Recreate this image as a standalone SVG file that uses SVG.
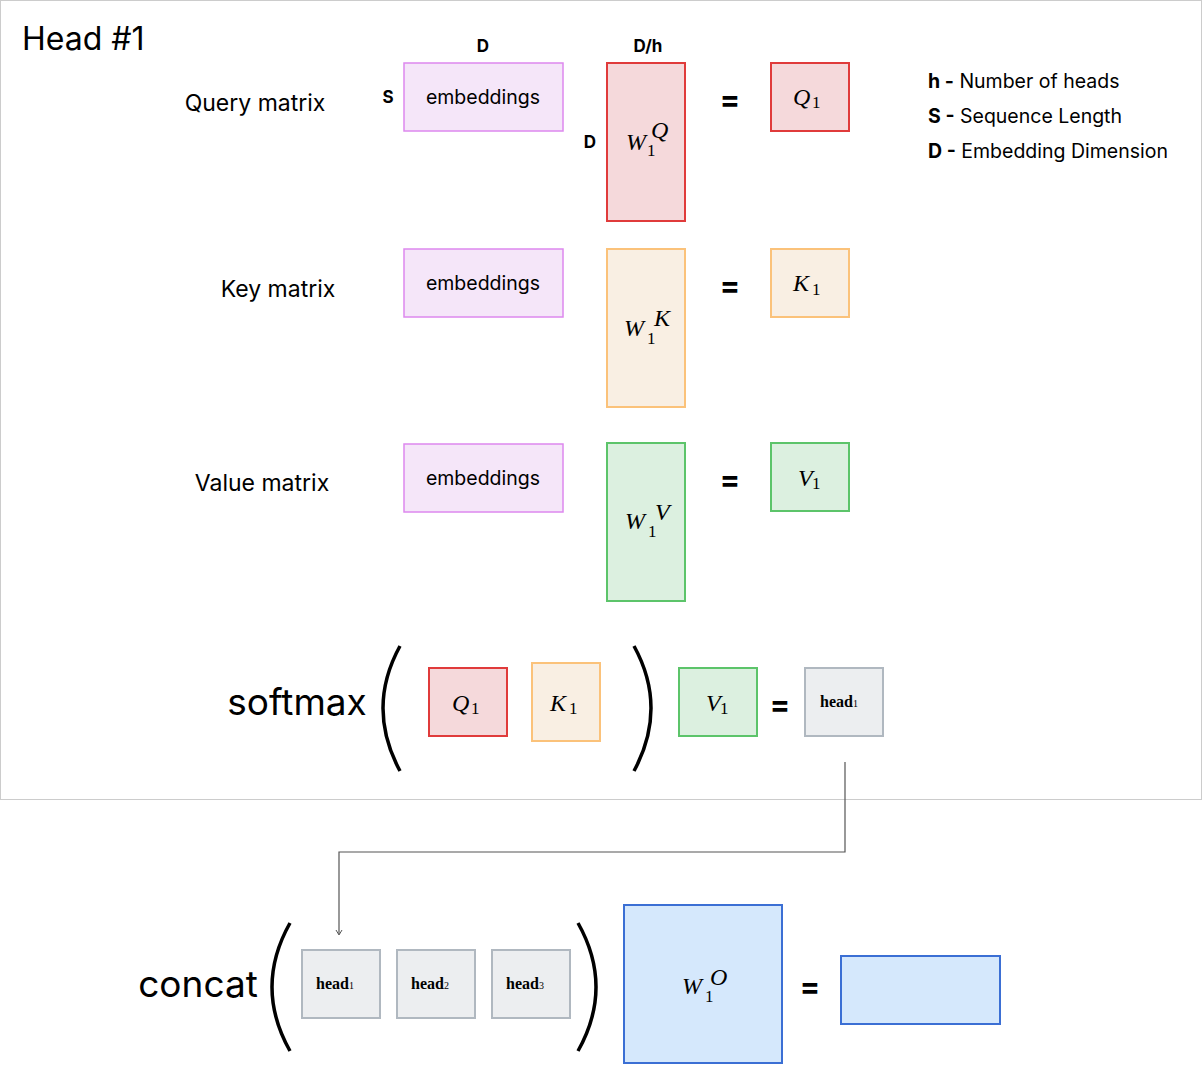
<svg xmlns="http://www.w3.org/2000/svg" width="1202" height="1079" viewBox="0 0 1202 1079">
<style>
text{font-family:Inter,"Noto Sans","Liberation Sans",sans-serif;fill:#000}
.b{font-weight:bold;font-size:17px}
.lbl{font-size:23px;text-anchor:middle}
.em{font-size:19.5px;text-anchor:middle}
.eq{font-size:30px;text-anchor:middle;font-weight:bold}
.m{font-family:"Liberation Serif","DejaVu Serif",serif;font-style:italic;font-size:24px}
.n{font-family:"Liberation Serif","DejaVu Serif",serif;font-size:17px}
.hd{font-family:"Liberation Serif","DejaVu Serif",serif;font-weight:bold;font-size:16px}
.hs{font-family:"Liberation Serif","DejaVu Serif",serif;font-size:10px;font-weight:normal}
.emb{fill:#f5e6f9;stroke:#dd88ee;stroke-width:1.5}
.q{fill:#f5d9db;stroke:#e03b3b;stroke-width:2}
.k{fill:#f9efe3;stroke:#fbc27a;stroke-width:2}
.v{fill:#dcf0e0;stroke:#5cc46a;stroke-width:2}
.h{fill:#eceef0;stroke:#b0b8c0;stroke-width:2}
.o{fill:#d5e8fc;stroke:#3b6fd4;stroke-width:2}
.p{fill:none;stroke:#000;stroke-width:3.5}
.leg{font-size:19.5px}
</style>
<rect x="0.5" y="0.5" width="1201" height="799" fill="#fff" stroke="#ccc"/>
<text x="22" y="50" font-size="32">Head #1</text>
<text class="b" x="483" y="52" text-anchor="middle">D</text>
<text class="b" x="648" y="52" text-anchor="middle">D/h</text>
<text class="b" x="388" y="103" text-anchor="middle">S</text>
<text class="b" x="590" y="148" text-anchor="middle">D</text>
<text class="lbl" x="255" y="111">Query matrix</text>
<text class="lbl" x="278" y="297">Key matrix</text>
<text class="lbl" x="262" y="491">Value matrix</text>
<g id="embq"><rect class="emb" x="404" y="63" width="159" height="68"/><text class="em" x="483" y="104">embeddings</text></g>
<g id="embk"><rect class="emb" x="404" y="249" width="159" height="68"/><text class="em" x="483" y="290">embeddings</text></g>
<g id="embv"><rect class="emb" x="404" y="444" width="159" height="68"/><text class="em" x="483" y="485">embeddings</text></g>
<g id="wq"><rect class="q" x="607" y="63" width="78" height="158"/><text class="m" x="626" y="150">W</text><text class="m" x="651" y="138" font-size="16">Q</text><text class="n" x="647" y="156" font-size="16">1</text></g>
<g id="wk"><rect class="k" x="607" y="249" width="78" height="158"/><text class="m" x="624" y="336">W</text><text class="m" x="654" y="326" font-size="16">K</text><text class="n" x="647" y="344" font-size="16">1</text></g>
<g id="wv"><rect class="v" x="607" y="443" width="78" height="158"/><text class="m" x="625" y="529">W</text><text class="m" x="655" y="520" font-size="16">V</text><text class="n" x="648" y="537" font-size="16">1</text></g>
<text class="eq" x="730" y="110">=</text>
<text class="eq" x="730" y="296">=</text>
<text class="eq" x="730" y="490">=</text>
<g id="q1"><rect class="q" x="771" y="63" width="78" height="68"/><text class="m" x="793" y="105">Q</text><text class="n" x="812" y="108">1</text></g>
<g id="k1"><rect class="k" x="771" y="249" width="78" height="68"/><text class="m" x="793" y="291">K</text><text class="n" x="812" y="295">1</text></g>
<g id="v1"><rect class="v" x="771" y="443" width="78" height="68"/><text class="m" x="798" y="486">V</text><text class="n" x="812" y="489">1</text></g>
<g id="legend">
<text x="928" y="88" class="leg"><tspan font-weight="bold">h -</tspan> Number of heads</text>
<text x="928" y="123" class="leg"><tspan font-weight="bold">S -</tspan> Sequence Length</text>
<text x="928" y="158" class="leg"><tspan font-weight="bold">D -</tspan> Embedding Dimension</text>
</g>
<text x="297" y="715" font-size="37" text-anchor="middle">softmax</text>
<path class="p" d="M400,646 Q366,708 400,771"/>
<path class="p" d="M634,646 Q668,708 634,771"/>
<g id="sq"><rect class="q" x="429" y="668" width="78" height="68"/><text class="m" x="452" y="711">Q</text><text class="n" x="471" y="714">1</text></g>
<g id="sk"><rect class="k" x="532" y="663" width="68" height="78"/><text class="m" x="550" y="711">K</text><text class="n" x="569" y="714">1</text></g>
<g id="sv"><rect class="v" x="679" y="668" width="78" height="68"/><text class="m" x="706" y="711">V</text><text class="n" x="720" y="714">1</text></g>
<text class="eq" x="780" y="715">=</text>
<g id="head1a"><rect class="h" x="805" y="668" width="78" height="68"/><text class="hd" x="820" y="707">head<tspan class="hs">1</tspan></text></g>
<g id="connectors"><path d="M845,762 V852 H339 V934" fill="none" stroke="#555" stroke-width="1.2"/><path d="M336,930 L339,935 L342,930" fill="none" stroke="#555" stroke-width="1"/></g>
<text x="198" y="997" font-size="37" text-anchor="middle">concat</text>
<path class="p" d="M290,923 Q254,987 290,1051"/>
<path class="p" d="M578,923 Q614,987 578,1051"/>
<g id="h1"><rect class="h" x="302" y="950" width="78" height="68"/><text class="hd" x="316" y="989">head<tspan class="hs">1</tspan></text></g>
<g id="h2"><rect class="h" x="397" y="950" width="78" height="68"/><text class="hd" x="411" y="989">head<tspan class="hs">2</tspan></text></g>
<g id="h3"><rect class="h" x="492" y="950" width="78" height="68"/><text class="hd" x="506" y="989">head<tspan class="hs">3</tspan></text></g>
<g id="wo"><rect class="o" x="624" y="905" width="158" height="158"/><text class="m" x="682" y="994">W</text><text class="m" x="710" y="985" font-size="16">O</text><text class="n" x="705" y="1002" font-size="16">1</text></g>
<text class="eq" x="810" y="997">=</text>
<g id="out"><rect class="o" x="841" y="956" width="159" height="68"/></g>
</svg>
